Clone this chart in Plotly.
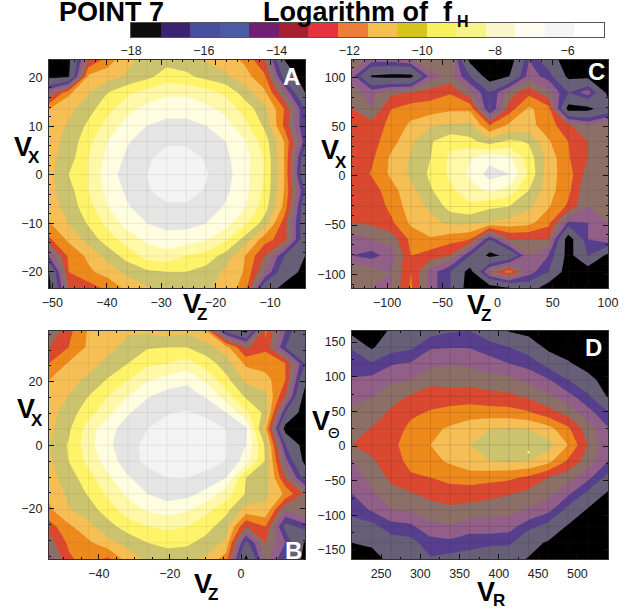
import plotly.graph_objects as go

W, H = 632, 610

# Colour-bar data: logarithm of f_H, band edges, tick labels
BAR_EDGES = [-18 + 0.8125 * i for i in range(17)]
BAR_BANDS = list(range(16))
BAR_COLORS = ["#0d0d0d", "#3c2270", "#47509f", "#4a5ba6", "#701f73", "#a81f32", "#e5323e", "#ef7d3a",
              "#f4bf4f", "#d4c61f", "#f7f060", "#f7f28a", "#fbf6c9", "#fffdf0", "#f5f5f5", "#ffffff"]
BAR_TICKS = [-18, -16, -14, -12, -10, -8, -6]
PANEL_COLORS = ["#000000", "#675f77", "#675f77", "#573f8d", "#915f87", "#8c7068", "#d9482f", "#ee8a1c",
                "#f6bf55", "#ccc36f", "#fff36a", "#fff8a8", "#fffde0", "#e5e5e5", "#f3f3f3", "#ffffff"]

# Each grid holds the level, counted in colour bands from log f = -18
A_x = [-50.6, -47.0, -43.4, -39.8, -36.2, -32.6, -29.0, -25.4, -21.8, -18.2, -14.6, -11.0, -7.4, -3.6]
A_y = [23.7, 20.3, 17.0, 13.6, 10.2, 6.9, 3.5, 0.1, -3.2, -6.6, -10.0, -13.3, -16.7, -20.0, -23.3]
A_z = [
    [0.5, 0.6, 6, 7.5, 8.8, 9.3, 9.6, 9.5, 8.9, 8.5, 7.8, 6, 1, 0],
    [0.5, 0.8, 8.2, 8.6, 9.1, 9.7, 10.5, 10.2, 9.7, 9.2, 8.4, 7.2, 2.5, 0],
    [5, 7.8, 8.9, 10, 10.8, 11.4, 11.8, 11.8, 11.4, 10.8, 9.5, 8.2, 5, 1],
    [8, 8.7, 9.6, 10.7, 11.7, 12.3, 12.6, 12.6, 12.3, 11.7, 10.6, 9.3, 7, 3],
    [8.5, 9.1, 10.2, 11.4, 12.4, 13, 13.3, 13.3, 13, 12.4, 11.3, 9.8, 6.8, 3],
    [8.6, 9.3, 10.7, 12, 12.9, 13.5, 13.8, 13.8, 13.5, 13, 12.1, 10.5, 8, 3.5],
    [8.7, 9.5, 11, 12.3, 13.2, 13.8, 14.5, 14.5, 13.9, 13.2, 12.4, 10.9, 8, 2],
    [8.7, 10, 11, 12.6, 13.4, 14, 14.7, 14.7, 14.1, 13.4, 12.3, 10.9, 8, 1.5],
    [8.7, 9.6, 11, 12.3, 13.2, 13.9, 14.5, 14.5, 13.9, 13.2, 12.3, 10.8, 8, 3],
    [8.5, 9.4, 10.6, 12, 12.9, 13.5, 13.8, 13.8, 13.5, 12.9, 12.1, 10.5, 7.7, 2],
    [7.9, 9, 10.1, 11.3, 12.4, 13, 13.3, 13.3, 13, 12.4, 11.2, 9.5, 6.5, 2],
    [6.8, 8.2, 9.4, 10.5, 11.5, 12.2, 12.6, 12.5, 12.1, 11.2, 9.6, 7.4, 6.5, 2],
    [4, 7.2, 8.2, 9.4, 10.4, 11.4, 11.6, 11, 10.6, 9.6, 8, 6, 3, 1],
    [1, 7, 7.8, 8.4, 9.3, 9.8, 10, 10, 9.6, 8.8, 7.9, 5, 2, 0.5],
    [0.5, 6, 6.5, 7.3, 8.3, 8.9, 9.2, 9.4, 9.2, 8.7, 7.5, 2, 0.5, 0],
]

B_x = [-54, -48.5, -42.9, -37.4, -31.8, -26.3, -20.8, -15.2, -9.7, -4.2, 1.4, 6.9, 12.5, 18]
B_y = [36, 30.9, 25.8, 20.6, 15.5, 10.3, 5.2, 0.1, -5.0, -10.2, -15.3, -20.4, -25.6, -30.7, -35.8]
B_z = [
    [5, 6.7, 8.1, 8.5, 8.9, 8.8, 8.5, 8.8, 8, 2.5, 0.5, 7.2, 4, 1],
    [6, 7, 8.2, 8.7, 9.3, 9.9, 10, 10, 9.4, 8.4, 5.8, 6.8, 3, 2],
    [7, 8.1, 8.6, 9.3, 10, 10.8, 11, 11.4, 10.5, 9.5, 7.8, 7.5, 7, 3],
    [8, 8.7, 9.2, 10.1, 11, 11.9, 12.4, 12.8, 11.8, 10.3, 8.8, 8.4, 7, 1.5],
    [8.4, 9, 10, 11, 12, 12.9, 13.4, 13.4, 12.9, 11.5, 9.8, 9.2, 6, 0.3],
    [8.6, 9.5, 10.6, 11.7, 12.9, 13.6, 13.9, 14.1, 13.7, 13, 11.2, 9.7, 3, 0],
    [8.7, 9.8, 11.5, 12.7, 13.4, 14, 14.6, 14.8, 14.6, 14, 13.2, 8.3, 0.3, 0],
    [9, 10.1, 11.6, 12.8, 13.6, 14.3, 14.9, 14.9, 14.6, 14.05, 13, 9.8, 3, 0.2],
    [8.8, 10, 11.3, 12.5, 13.5, 14.3, 14.6, 14.7, 14.5, 14, 12.5, 9.9, 4.5, 0.5],
    [8.6, 9.5, 10.6, 11.8, 12.9, 13.5, 14, 14.05, 13.6, 13, 10, 9.7, 6, 2.5],
    [8.2, 9.2, 10.1, 11.2, 12.2, 13, 13.5, 13.3, 12.7, 11.5, 9.9, 9.2, 7.8, 5.8],
    [7.8, 8.9, 9.5, 10.5, 11.5, 12.1, 12.4, 12.1, 11.3, 10.3, 8.6, 8.8, 5, 6],
    [6.5, 7.8, 8.7, 9.6, 10.5, 11, 11.2, 11, 10.4, 9.4, 6, 7, 2.5, 3.5],
    [5.5, 7.2, 7.8, 8.7, 9.3, 10, 10.3, 10.2, 9.6, 8.8, 2.5, 6, 4, 0.8],
    [4.5, 6.8, 7.5, 6.8, 8.5, 9.2, 9.4, 9.3, 8.8, 7.5, 0.5, 5.5, 3, 0.5],
]

C_x = [-131.7, -113.9, -96.1, -78.3, -60.5, -42.7, -24.9, -7.1, 10.7, 28.5, 46.3, 64.1, 81.9, 100]
C_y = [118, 101.4, 84.9, 68.3, 51.7, 35.1, 18.6, 2.0, -14.6, -31.1, -47.7, -64.3, -80.9, -97.4, -114]
C_z = [
    [6, 4.5, 4.5, 5, 6, 6, 0.5, 0, 0, 4, 2, 0, 0, 0],
    [4.5, 0.8, 0.5, 0.5, 4.5, 5.3, 3, 0, 1, 4.5, 3.6, 0.6, 0.5, 0],
    [5.3, 4.7, 5.8, 6, 6.5, 6.9, 5.2, 3, 5.5, 6.7, 5.2, 3, 4.7, 0.5],
    [6, 5, 7, 7.5, 7.5, 7.8, 7.8, 2.8, 6.5, 8.2, 7.4, 0.3, 0.5, 2],
    [6.4, 6.4, 7.3, 8.2, 8.9, 9.1, 9.2, 7, 8.2, 8.3, 7.5, 6.2, 5, 6],
    [6.3, 6.6, 7.6, 8.8, 9.9, 10.7, 10.3, 9.5, 10.2, 9.9, 8.1, 7, 6, 5.5],
    [6.2, 6.8, 8.2, 9.1, 10, 11.2, 11.9, 12.6, 12.2, 10.5, 8.6, 7.1, 6, 5],
    [6.2, 7.1, 8.2, 9.2, 10.2, 11.2, 12.2, 13.4, 13, 10.8, 8.4, 7.5, 5.5, 6],
    [6.2, 6.5, 7.6, 8.7, 9.9, 10.8, 11.6, 12.2, 11.6, 10, 8.4, 7.3, 5, 6],
    [6, 6.2, 7.3, 8.5, 9.2, 10.4, 10.8, 10.2, 10, 9.2, 8.1, 6.8, 5, 6],
    [6, 6.2, 6.8, 8.2, 8.7, 9.2, 9.2, 8.9, 8.6, 8.3, 7.3, 3.8, 4, 5],
    [4.5, 5, 5.4, 7.3, 7.9, 7.4, 7.1, 3, 6, 6, 6, 0, 4, 5],
    [4, 3.6, 4.5, 7, 6.5, 6, 3, 0.5, 1.5, 5, 4, 0.3, 3, 0.5],
    [6, 5.5, 5, 7, 4.5, 3, 0.3, 5.5, 7.5, 4.5, 3, 0, 0, 0],
    [6, 5, 5, 7.2, 4.5, 3, 0, 0, 1, 2, 0, 0, 0, 0],
]

D_x = [213, 238, 263, 288, 313, 338, 363, 388, 413, 438, 463, 488, 513, 539]
D_y = [166, 142.5, 119, 95.5, 72, 48.5, 25, 1.5, -22, -45.5, -69, -92.5, -116, -139.5, -163]
D_z = [
    [0.3, 0.2, 1.2, 1.5, 2.5, 2.9, 3, 2.2, 0.9, 0.3, 0, 0, 0, 0],
    [2.9, 0.7, 2.5, 2.8, 3.9, 3.95, 3.95, 3.5, 3, 2.4, 0.5, 0.2, 0, 0],
    [3.5, 3.2, 3.9, 4.1, 4.7, 4.95, 4.8, 4.45, 4, 3.6, 2.6, 1.2, 0.3, 0],
    [4.1, 4.3, 4.8, 5, 5.7, 5.6, 5.6, 5.45, 5.3, 4.75, 4.1, 3, 1.6, 0.2],
    [4.7, 4.95, 5.65, 6.1, 6.45, 6.45, 6.5, 6.3, 6.2, 5.8, 5.2, 4.35, 3.3, 0.8],
    [5.2, 5.5, 6.15, 6.8, 7.1, 7.35, 7.5, 7.45, 7.4, 7.1, 6.4, 5.65, 4.4, 3.2],
    [5.6, 6.05, 6.5, 7.25, 7.75, 8.15, 8.6, 8.97, 9.05, 8.97, 8.4, 7.2, 5.5, 4.1],
    [6, 6.3, 6.75, 7.45, 8, 8.5, 8.98, 9.5, 9.5, 9.5, 9.4, 8, 6, 4.3],
    [4.9, 5.85, 6.5, 7.3, 7.7, 8.15, 8.7, 8.97, 9.05, 8.97, 8.3, 6.85, 5.5, 4],
    [4.4, 5.35, 6.2, 6.85, 7, 7.3, 7.45, 7.3, 7.2, 6.8, 6, 5.4, 4.35, 2.6],
    [4, 4.8, 5.7, 5.9, 6.3, 6.55, 6.5, 6.35, 6.05, 5.7, 5.3, 4.2, 2.7, 0.7],
    [3.4, 4.1, 4.95, 5.1, 5.55, 5.75, 5.55, 5.35, 5.3, 4.9, 4.3, 2.6, 0.8, 0],
    [2.4, 2.6, 3.6, 3.8, 4.7, 4.9, 4.5, 4.5, 4.4, 3.4, 2.5, 0.8, 0, 0],
    [1, 1.3, 2.4, 2.6, 3.6, 3.75, 3.4, 3.4, 3.3, 1.6, 0.8, 0, 0, 0],
    [1, 0.3, 1.5, 2, 2.9, 2.6, 2.5, 1.5, 1.6, 0.9, 0, 0, 0, 0],
]
D_peak_x = [438]
D_peak_y = [-9]

A_xticks = [-50, -40, -30, -20, -10]
A_yticks = [-20, -10, 0, 10, 20]
B_xticks = [-40, -20, 0]
B_yticks = [-20, 0, 20]
C_xticks = [-100, -50, 0, 50, 100]
C_yticks = [-100, -50, 0, 50, 100]
D_xticks = [250, 300, 350, 400, 450, 500]
D_yticks = [-150, -100, -50, 0, 50, 100, 150]


def disc(colors):
    n = len(colors)
    out = []
    for i, c in enumerate(colors):
        out += [[i / n, c], [(i + 1) / n, c]]
    return out


PANELS = [
    dict(name="", x=A_x, y=A_y, z=A_z, box=(49, 305, 60, 288), xr=(-50.6, -3.6), yr=(-23.3, 23.7),
         xt=A_xticks, yt=A_yticks, xm=2, ym=2, grid="rgba(110,90,40,0.10)"),
    dict(name="2", x=C_x, y=C_y, z=C_z, box=(352, 608, 60, 288), xr=(-131.7, 100), yr=(-114, 118),
         xt=C_xticks, yt=C_yticks, xm=10, ym=10, grid="rgba(70,60,60,0.14)"),
    dict(name="3", x=B_x, y=B_y, z=B_z, box=(49, 305, 331, 559), xr=(-54, 18), yr=(-35.8, 36),
         xt=B_xticks, yt=B_yticks, xm=5, ym=5, grid="rgba(110,90,40,0.10)"),
    dict(name="4", x=D_x, y=D_y, z=D_z, box=(352, 608, 331, 559), xr=(213, 539), yr=(-163, 166),
         xt=D_xticks, yt=D_yticks, xm=25, ym=25, grid="rgba(50,40,50,0.16)"),
]

fig = go.Figure()
layout = dict(width=W, height=H, margin=dict(l=0, r=0, t=0, b=0, autoexpand=False), paper_bgcolor="white",
              plot_bgcolor="white", showlegend=False, autosize=False)
TICKFONT = dict(family="Liberation Sans", size=12.5, color="#222")

for p in PANELS:
    xa = "x" + p["name"]
    ya = "y" + p["name"]
    fig.add_trace(go.Contour(
        x=p["x"], y=p["y"], z=[[-18 + 0.8125 * v for v in row] for row in p["z"]],
        xaxis=xa, yaxis=ya, showscale=False, zmin=-18, zmax=-5,
        colorscale=disc(PANEL_COLORS), autocontour=False,
        contours=dict(start=-18 + 0.8125, end=-18 + 0.8125 * 15, size=0.8125, coloring="fill", showlines=False),
        line=dict(width=0, smoothing=0), hoverinfo="skip"))
    gx, gy = [], []
    for v in p["x"][1:-1]:
        gx += [v, v, None]
        gy += [p["yr"][0], p["yr"][1], None]
    for v in p["y"][1:-1]:
        gx += [p["xr"][0], p["xr"][1], None]
        gy += [v, v, None]
    fig.add_trace(go.Scatter(x=gx, y=gy, xaxis=xa, yaxis=ya, mode="lines",
                             line=dict(color=p["grid"], width=1), hoverinfo="skip"))
    l, r, t, b = p["box"]
    common = dict(mirror="allticks", ticks="inside", ticklen=5, tickwidth=1, tickcolor="#111",
                  showline=True, linecolor="#333", linewidth=1, showgrid=False, zeroline=False,
                  tickfont=TICKFONT, ticklabelstandoff=3, layer="above traces")
    layout["xaxis" + p["name"]] = dict(domain=[l / W, r / W], range=list(p["xr"]), tickvals=p["xt"],
                                       anchor=ya, minor=dict(ticks="inside", ticklen=2, dtick=p["xm"], tickcolor="#111"),
                                       **common)
    layout["yaxis" + p["name"]] = dict(domain=[1 - b / H, 1 - t / H], range=list(p["yr"]), tickvals=p["yt"],
                                       anchor=xa, minor=dict(ticks="inside", ticklen=2, dtick=p["ym"], tickcolor="#111"),
                                       **common)

fig.add_trace(go.Scatter(x=D_peak_x, y=D_peak_y, xaxis="x4", yaxis="y4", mode="markers",
                         marker=dict(color="#fff36a", size=2.5), hoverinfo="skip"))

# colour bar
fig.add_trace(go.Heatmap(x=BAR_EDGES, y=[0, 1], z=[BAR_BANDS], xaxis="x5", yaxis="y5", showscale=False,
                         zmin=-0.5, zmax=15.5, colorscale=disc(BAR_COLORS), hoverinfo="skip"))
layout["xaxis5"] = dict(domain=[131 / W, 604 / W], range=[-18, -5], tickvals=BAR_TICKS, ticks="outside", ticklen=2,
                        tickcolor="rgba(0,0,0,0)", tickfont=TICKFONT, showgrid=False, zeroline=False,
                        showline=True, mirror=True, linecolor="#555", linewidth=1, anchor="y5")
layout["yaxis5"] = dict(domain=[1 - 37 / H, 1 - 23 / H], range=[0, 1], showticklabels=False, ticks="",
                        showgrid=False, zeroline=False, showline=True, mirror=True, linecolor="#555",
                        linewidth=1, anchor="x5")


def label(text, px, py, size, color="black", anchor="left", family="Liberation Sans"):
    return dict(text=text, x=px / W, y=1 - py / H, xref="paper", yref="paper", showarrow=False,
                xanchor=anchor, yanchor="middle", font=dict(family=family, size=size, color=color))


B = lambda s: f"<b>{s}</b>"
ann = [
    label(B("POINT 7"), 57, 12, 27),
    label(B("Logarithm of  f"), 261, 12, 27),
    label(B("H"), 455, 21, 16),
    label(B("A"), 291, 76, 24, "white", "center"),
    label(B("C"), 596, 72, 24, "white", "center"),
    label(B("B"), 293, 550, 24, "white", "center"),
    label(B("D"), 593, 347, 24, "white", "center"),
]
# (main letter position, subscript text, subscript position)
AXIS_LABELS = [
    (12, 147, "X", 26, 157), (181, 304, "Z", 195, 314),
    (319, 150, "X", 333, 162), (465, 305, "Z", 479, 315),
    (15, 409, "X", 29, 420), (192, 584, "Z", 206, 594),
    (475, 592, "R", 491, 600),
]
for vx, vy, sub, sx, sy in AXIS_LABELS:
    ann.append(label(B("V"), vx, vy, 27))
    ann.append(label(B(sub), sx, sy, 17))
ann.append(label(B("V"), 310, 421, 27))
ann.append(label("Θ", 326, 432, 15))
layout["annotations"] = ann
fig.update_layout(**layout)
fig.write_html("out.html", config={"displayModeBar": False, "responsive": False},
               post_script="document.body.style.margin='0';")
